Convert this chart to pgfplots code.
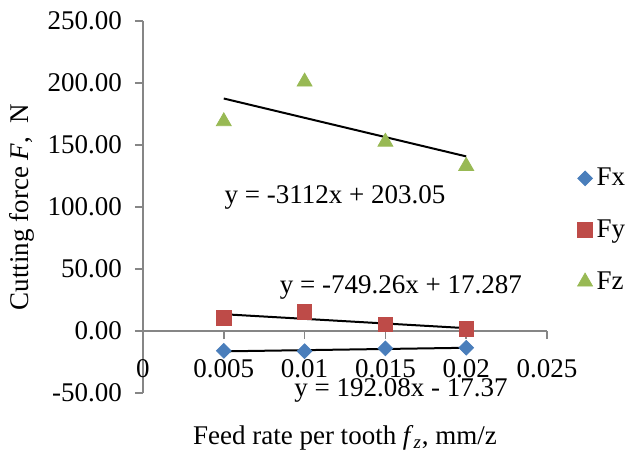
\documentclass[border=0pt]{standalone}
\usepackage{fontspec}
\setmainfont{Liberation Serif}
\usepackage{pgfplots}
\pgfplotsset{compat=1.18}

\definecolor{cfx}{HTML}{4A7EBB}
\definecolor{cfy}{HTML}{BE4B48}
\definecolor{cfz}{HTML}{98B954}
\definecolor{axgray}{HTML}{868686}

\begin{document}
\begin{tikzpicture}
\path[use as bounding box] (-71.5pt,-31.5pt) rectangle (242pt,196.5pt);
\begin{axis}[
  at={(0,0)}, anchor=south west,
  scale only axis, width=202pt, height=186pt,
  font=\fontsize{13.5}{16}\selectfont,
  xmin=0, xmax=0.025, ymin=-50, ymax=250,
  axis x line=middle, axis y line=left,
  axis line style={-, axgray, line width=0.75pt},
  tick style={axgray, line width=0.75pt},
  tick align=outside, major tick length=4pt,
  hide obscured x ticks=false,
  scaled x ticks=false,
  xtick={0,0.005,0.01,0.015,0.02,0.025},
  xticklabels={0,0.005,0.01,0.015,0.02,0.025},
  ytick={-50,0,50,100,150,200,250},
  yticklabels={-50.00,0.00,50.00,100.00,150.00,200.00,250.00},
  x tick label style={anchor=center, yshift=-15pt},
  y tick label style={anchor=east, xshift=-3pt},
  every axis x label/.style={at={(axis description cs:0.5,-0.121)}, anchor=center},
  every axis y label/.style={at={(axis description cs:-0.2995,0.5)}, anchor=center, rotate=90},
  xlabel={Feed rate per tooth \textit{f}\textsubscript{\textit{z}}, mm/z},
  ylabel={Cutting force \textit{F},\ \ N},
  legend style={draw=none, fill=none, at={(axis description cs:1.06,0.438)}, anchor=west,
    row sep=11.5pt, font=\fontsize{13.5}{16}\selectfont},
  legend cell align=left,
  clip=false,
]
\addplot[only marks, mark=square*, mark size=2.6pt, mark options={rotate=45, fill=cfx, draw=cfx}]
  coordinates {(0.005,-16.0) (0.01,-16.3) (0.015,-14.0) (0.02,-13.5)};
\addlegendentry{Fx}
\addplot[only marks, mark=square*, mark size=3.6pt, mark options={fill=cfy, draw=cfy}]
  coordinates {(0.005,10.5) (0.01,15.3) (0.015,5.5) (0.02,1.6)};
\addlegendentry{Fy}
\addplot[only marks, mark=triangle*, mark size=4.3pt, mark options={fill=cfz, draw=cfz}]
  coordinates {(0.005,169) (0.01,201) (0.015,152.5) (0.02,133)};
\addlegendentry{Fz}

% linear trendlines
\addplot[forget plot, black, line width=1pt] coordinates {(0.005,-16.41) (0.02,-13.53)};
\addplot[forget plot, black, line width=1pt] coordinates {(0.005,13.541) (0.02,2.302)};
\addplot[forget plot, black, line width=1pt] coordinates {(0.005,187.49) (0.02,140.81)};

\node at (axis cs:0.01188,108) {y = -3112x + 203.05};
\node at (axis cs:0.01596,35.5) {y = -749.26x + 17.287};
\node at (axis cs:0.01596,-48) {y = 192.08x - 17.37};
\end{axis}
\end{tikzpicture}
\end{document}
